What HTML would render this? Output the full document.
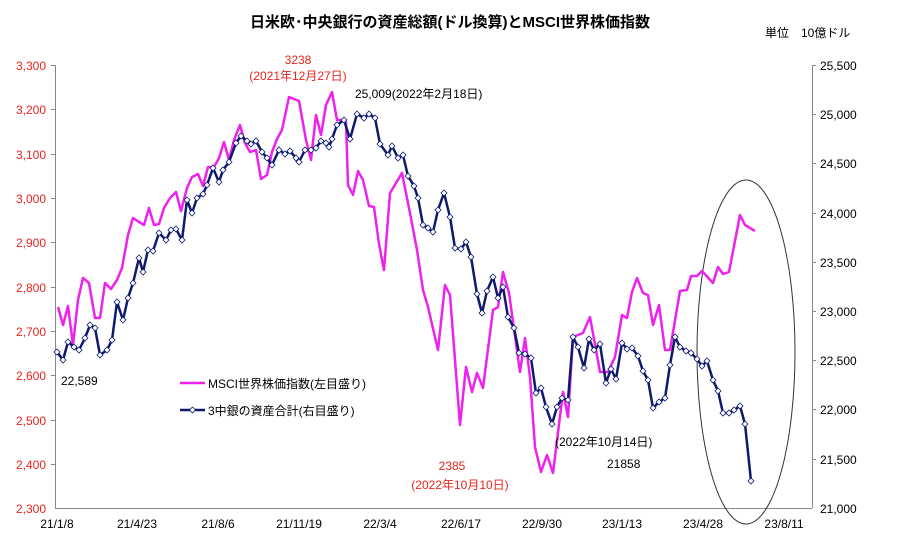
<!DOCTYPE html>
<html><head><meta charset="utf-8"><style>
body{margin:0;background:#fff;}
svg text{font-family:"Liberation Sans","Noto Sans CJK JP",sans-serif;}
</style></head><body>
<svg width="900" height="549" viewBox="0 0 900 549" xmlns="http://www.w3.org/2000/svg">
<defs>
<marker id="dm" viewBox="-4 -4 8 8" markerWidth="8" markerHeight="8" refX="0" refY="0" markerUnits="userSpaceOnUse">
<path d="M0 -3L3 0L0 3L-3 0Z" fill="#fff" stroke="#0d1a6e" stroke-width="0.8"/>
</marker>
</defs>
<rect width="900" height="549" fill="#fff"/>
<text x="450" y="27" text-anchor="middle" font-size="15" font-weight="bold" fill="#000">日米欧･中央銀行の資産総額(ドル換算)とMSCI世界株価指数</text>
<text x="765" y="37" font-size="12" fill="#000">単位　10億ドル</text>
<g stroke="#888" stroke-width="1" fill="none">
<line x1="55.5" y1="65" x2="55.5" y2="508"/>
<line x1="812.5" y1="65" x2="812.5" y2="508"/>
<line x1="55" y1="508.5" x2="812" y2="508.5"/>
</g>
<g stroke="#888" stroke-width="1">
<line x1="51" y1="65.5" x2="55" y2="65.5"/><line x1="51" y1="109.5" x2="55" y2="109.5"/><line x1="51" y1="154.5" x2="55" y2="154.5"/><line x1="51" y1="198.5" x2="55" y2="198.5"/><line x1="51" y1="242.5" x2="55" y2="242.5"/><line x1="51" y1="287.5" x2="55" y2="287.5"/><line x1="51" y1="331.5" x2="55" y2="331.5"/><line x1="51" y1="375.5" x2="55" y2="375.5"/><line x1="51" y1="420.5" x2="55" y2="420.5"/><line x1="51" y1="464.5" x2="55" y2="464.5"/>
<line x1="812" y1="65.5" x2="816" y2="65.5"/><line x1="812" y1="114.5" x2="816" y2="114.5"/><line x1="812" y1="163.5" x2="816" y2="163.5"/><line x1="812" y1="213.5" x2="816" y2="213.5"/><line x1="812" y1="262.5" x2="816" y2="262.5"/><line x1="812" y1="311.5" x2="816" y2="311.5"/><line x1="812" y1="360.5" x2="816" y2="360.5"/><line x1="812" y1="409.5" x2="816" y2="409.5"/><line x1="812" y1="459.5" x2="816" y2="459.5"/>
</g>
<g font-size="12" fill="#e8241e" text-anchor="end">
<text x="46" y="70">3,300</text><text x="46" y="114">3,200</text><text x="46" y="159">3,100</text><text x="46" y="203">3,000</text><text x="46" y="247">2,900</text><text x="46" y="292">2,800</text><text x="46" y="336">2,700</text><text x="46" y="380">2,600</text><text x="46" y="425">2,500</text><text x="46" y="469">2,400</text><text x="46" y="513">2,300</text>
</g>
<g font-size="12" fill="#000">
<text x="820" y="70">25,500</text><text x="820" y="119">25,000</text><text x="820" y="168">24,500</text><text x="820" y="218">24,000</text><text x="820" y="267">23,500</text><text x="820" y="316">23,000</text><text x="820" y="365">22,500</text><text x="820" y="414">22,000</text><text x="820" y="464">21,500</text><text x="820" y="513">21,000</text>
</g>
<g font-size="12" fill="#000" text-anchor="middle">
<text x="57" y="528">21/1/8</text><text x="137" y="528">21/4/23</text><text x="218" y="528">21/8/6</text><text x="299" y="528">21/11/19</text><text x="380" y="528">22/3/4</text><text x="461" y="528">22/6/17</text><text x="542" y="528">22/9/30</text><text x="622" y="528">23/1/13</text><text x="703" y="528">23/4/28</text><text x="784" y="528">23/8/11</text>
</g>
<ellipse cx="746" cy="352" rx="49" ry="172" fill="none" stroke="#333" stroke-width="1"/>
<polyline fill="none" stroke="#ee22ee" stroke-width="2.5" stroke-linejoin="round" points="58,307 63,325 68,306 73,345 78,300 83,278 89,283 95,318 100,318 105,283 111,289 117,280 122,268 128,235 133,218 139,222 144,225 149,208 154,225 159,224 164,208 170,198 176,192 181,211 187,188 192,177 198,174 203,186 208,167 214,167 219,158 224,142 229,160 234,140 240,125 245,143 250,152 256,150 261,179 267,175 272,152 277,139 282,130 289,97 294,99 299,101 306,140 311,160 316,115 321,135 326,105 332,92 337,120 342,120 346,122 348,185 353,195 358,171 363,180 369,206 374,207 379,244 384,270 390,193 402,173 410,213 417,250 423,290 428,307 438,350 445,285 450,295 460,425 466,367 472,392 477,373 483,388 493,310 498,307 503,272 509,293 520,372 525,338 530,377 535,447 541,472 547,455 553,473 563,392 568,417 573,337 583,333 590,317 600,372 608,372 615,357 622,315 627,318 632,292 637,278 643,293 648,295 653,325 659,305 665,350 670,350 680,291 687,290 691,276 697,276 702,271 713,283 718,267 723,274 729,272 740,215 745,225 755,231"/>
<polyline fill="none" stroke="#0d1a6e" stroke-width="2.5" stroke-linejoin="round" marker-start="url(#dm)" marker-mid="url(#dm)" marker-end="url(#dm)" points="57,352 63,360 68,342 74,347 79,350 85,338 90,325 95,328 100,355 107,350 112,340 117,302 123,320 128,298 133,283 139,258 143,272 148,250 153,251 159,233 166,240 171,230 176,229 182,240 187,200 192,213 197,198 203,194 207,185 213,168 219,182 223,170 229,162 236,143 241,136 247,141 251,144 256,141 262,152 267,158 272,165 279,150 285,154 290,151 296,158 299,162 305,150 311,150 316,148 321,141 326,143 329,147 332,139 337,125 344,120 350,139 357,114 364,118 369,114 375,118 380,144 388,155 392,146 398,158 403,155 408,176 414,186 418,198 423,225 428,228 433,232 438,210 444,193 450,217 455,248 461,249 466,242 471,257 477,294 482,313 487,291 493,277 498,298 503,287 508,317 514,328 519,353 525,354 531,358 536,393 541,388 546,407 552,424 557,407 562,398 568,400 573,337 578,347 584,368 589,339 594,350 600,344 606,383 611,369 616,379 622,343 627,349 632,348 638,356 643,371 648,380 653,408 659,402 665,398 670,365 675,337 680,347 686,351 691,353 697,359 702,366 707,361 713,380 718,391 723,413 729,413 734,410 740,406 745,424 751,481"/>
<line x1="180" y1="383" x2="205" y2="383" stroke="#ee22ee" stroke-width="2.5"/>
<text x="208" y="388" font-size="12">MSCI世界株価指数(左目盛り)</text>
<line x1="180" y1="410" x2="205" y2="410" stroke="#0d1a6e" stroke-width="2.5"/>
<path d="M192.5 407L195.5 410L192.5 413L189.5 410Z" fill="#fff" stroke="#0d1a6e" stroke-width="0.8"/>
<text x="208" y="415" font-size="12">3中銀の資産合計(右目盛り)</text>
<text x="61" y="385" font-size="12">22,589</text>
<text x="298" y="64" font-size="12" fill="#e8241e" text-anchor="middle">3238</text>
<text x="298" y="80" font-size="12" fill="#e8241e" text-anchor="middle">(2021年12月27日)</text>
<text x="355" y="98" font-size="12">25,009(2022年2月18日)</text>
<text x="452" y="470" font-size="12" fill="#e8241e" text-anchor="middle">2385</text>
<text x="460" y="489" font-size="12" fill="#e8241e" text-anchor="middle">(2022年10月10日)</text>
<text x="555" y="446" font-size="12">(2022年10月14日)</text>
<text x="607" y="468" font-size="12">21858</text>
</svg>
</body></html>
